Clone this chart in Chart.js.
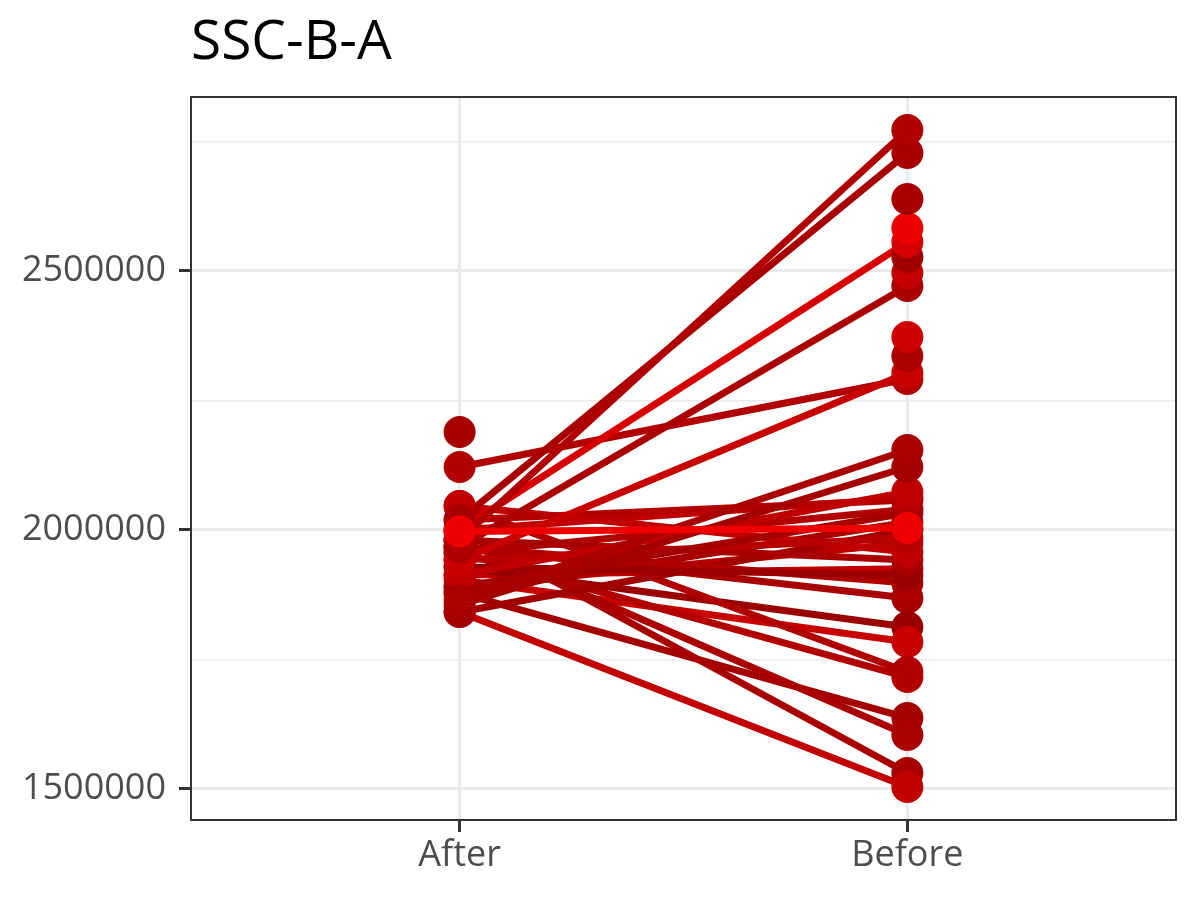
<!DOCTYPE html>
<html>
<head>
<meta charset="utf-8">
<script src="https://cdn.jsdelivr.net/npm/chart.js@4.4.1/dist/chart.umd.min.js"></script>
<style>
  html, body { margin: 0; padding: 0; background: #ffffff; }
  #c { display: block; }
</style>
</head>
<body>
<canvas id="c" width="1200" height="900"></canvas>
<script>
// ---- data ----
const categories = ['After', 'Before'];
const yTickLabels = ['1500000', '2000000', '2500000'];
const yMajorTicks = [1500000, 2000000, 2500000];
const yMinorTicks = [1750000, 2250000, 2750000];

// paired values per subject (null = missing measurement)
const afterValues = [
  1997000, 1980700, 2019300, null, null, 2000000, null, null, 1967200, null, null,
  1942100, 2121600, 2189200,
  1864900, 1855200, 1913100, 2019300, 1890000, 1942100, 2046300,
  1980700, 1928600, 1967200, 1841700, 2000000, 1955600, 1878400,
  1841700, 2000000, 1980700, 1878400, 1955600, 2046300, 1903500, 1928600,
  1967200, 1890000, 1913100
];
const beforeValues = [
  2003900, 2772200, 2727800, 2639000, 2583000, 2556000, 2527000, 2496000, 2471000, 2372600, 2336000,
  2303000, 2291500, null,
  2154400, 2121600, 2073400, 2057900, 2032800, 1984600, 1957500,
  1942100, 1913200, 1897700, 2000000, 2062000, 2040000, 2015000,
  1503900, 1530900, 1604200, 1637100, 1716200, 1725900, 1783800, 1812700,
  1868800, 1975000, 1925000
];
const subjectColors = [
  '#EE0000', '#B00000', '#A80000', '#A80000', '#EE0000', '#D60000', '#A00000', '#C40000', '#AA0000', '#CC0000', '#AA0000',
  '#C80000', '#B00000', '#A80000',
  '#AA0000', '#A50000', '#C00000', '#B40000', '#A50000', '#B80000', '#C00000',
  '#A80000', '#9A0000', '#AE0000', '#A00000', '#C00000', '#B00000', '#A80000',
  '#C20000', '#A80000', '#AA0000', '#A40000', '#B20000', '#B00000', '#C80000', '#9A0000',
  '#A80000', '#B80000', '#C00000'
];

// ---- build datasets ----
const lineSets = [];
const pointSets = [];
afterValues.forEach((a, i) => {
  const b = beforeValues[i];
  const pts = [{ x: 0, y: a }, { x: 1, y: b }];
  lineSets.push({
    data: pts,
    showLine: true,
    borderColor: subjectColors[i],
    borderWidth: 7,
    pointRadius: 0,
    spanGaps: false,
    order: 2
  });
  pointSets.push({
    data: pts,
    showLine: false,
    backgroundColor: subjectColors[i],
    pointBorderWidth: 0,
    pointRadius: 16,
    order: 1
  });
});

const panelBorder = {
  id: 'panelBorder',
  afterDatasetsDraw(chart) {
    const a = chart.chartArea;
    const ctx = chart.ctx;
    ctx.save();
    ctx.strokeStyle = '#333333';
    ctx.lineWidth = 2;
    ctx.strokeRect(a.left, a.top, a.right - a.left, a.bottom - a.top);
    ctx.restore();
  }
};

const FONT = "'Open Sans', 'Noto Sans', sans-serif";

new Chart(document.getElementById('c'), {
  type: 'scatter',
  data: { datasets: [...pointSets, ...lineSets] },
  options: {
    responsive: false,
    animation: false,
    devicePixelRatio: 1,
    layout: { padding: { top: 10, right: 24, bottom: 0, left: 0 } },
    plugins: {
      legend: { display: false },
      tooltip: { enabled: false },
      title: {
        display: true,
        text: 'SSC-B-A',
        align: 'start',
        fullSize: false,
        color: '#000000',
        font: { family: FONT, size: 55, weight: 'normal', lineHeight: 1.2 },
        padding: { top: 0, bottom: 21 }
      }
    },
    scales: {
      x: {
        type: 'linear',
        min: -0.6,
        max: 1.6,
        afterBuildTicks(scale) {
          scale.ticks = categories.map((c, i) => ({ value: i }));
        },
        afterFit(scale) { scale.height = 80; },
        ticks: {
          callback: (v) => categories[v],
          color: '#4D4D4D',
          font: { family: FONT, size: 36 },
          padding: 2,
          maxRotation: 0,
          autoSkip: false
        },
        grid: {
          color: '#EBEBEB',
          lineWidth: 3,
          tickColor: '#333333',
          tickWidth: 3,
          tickLength: 12,
          drawTicks: true
        },
        border: { display: false }
      },
      y: {
        type: 'linear',
        min: 1440150,
        max: 2835900,
        afterBuildTicks(scale) {
          scale.ticks = [...yMajorTicks, ...yMinorTicks].sort((p, q) => p - q).map(v => ({ value: v }));
        },
        afterFit(scale) { scale.width = 191; },
        ticks: {
          callback: (v) => {
            const k = yMajorTicks.indexOf(v);
            return k >= 0 ? yTickLabels[k] : '';
          },
          color: '#4D4D4D',
          font: { family: FONT, size: 36 },
          padding: 13,
          autoSkip: false
        },
        grid: {
          color: '#EBEBEB',
          lineWidth: (ctx) => (yMajorTicks.includes(ctx.tick && ctx.tick.value) ? 3 : 1.5),
          tickColor: (ctx) => (yMajorTicks.includes(ctx.tick && ctx.tick.value) ? '#333333' : 'rgba(0,0,0,0)'),
          tickWidth: 3,
          tickLength: 12
        },
        border: { display: false }
      }
    }
  },
  plugins: [panelBorder]
});
</script>
</body>
</html>
